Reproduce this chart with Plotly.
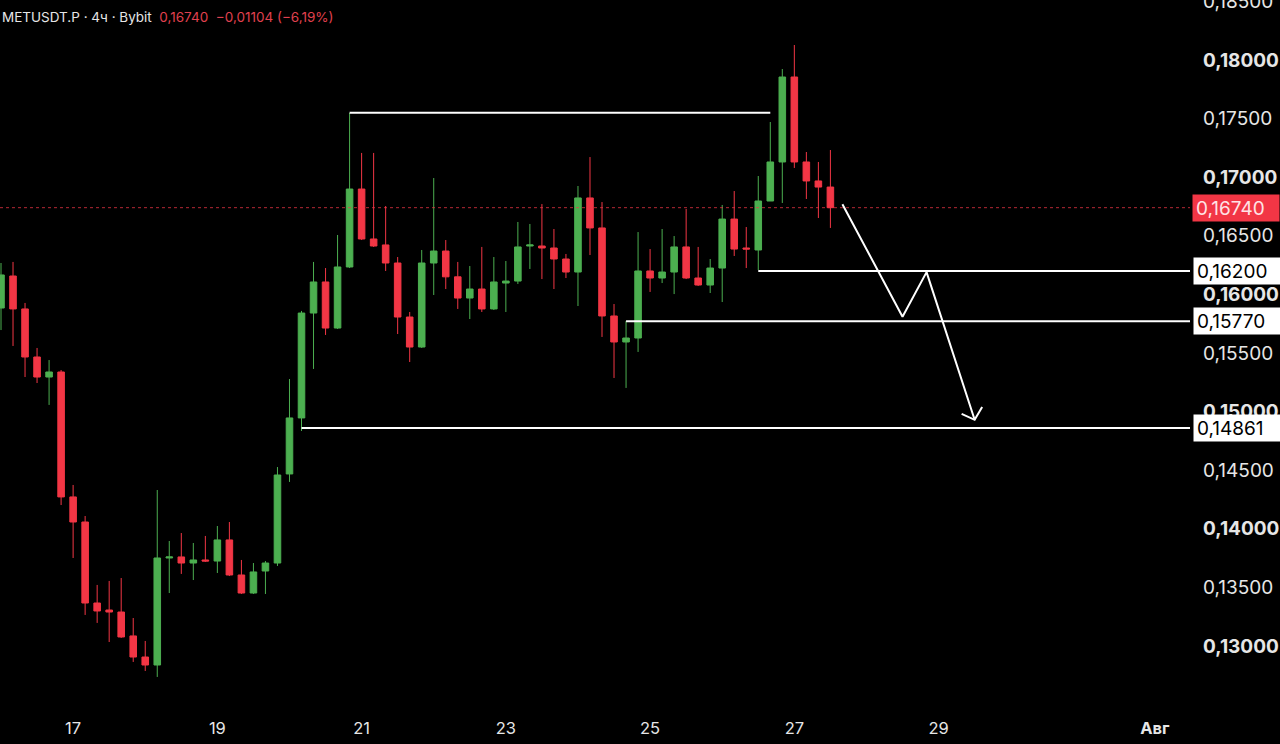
import pandas as pd
import plotly.graph_objects as go

# METUSDT.P 4h candles, Bybit
times = pd.date_range("2024-07-16 00:00", periods=70, freq="4h")

opens = [0.15884, 0.16157, 0.15876, 0.15466, 0.15295, 0.15338, 0.14272, 0.14058, 0.13367, 0.13307,
         0.13290, 0.13086, 0.12906, 0.12838, 0.13751, 0.13760, 0.13708, 0.13734, 0.13725, 0.13905,
         0.13606, 0.13452, 0.13640, 0.13708, 0.14468, 0.14946, 0.15841, 0.16106, 0.15713, 0.16234,
         0.16899, 0.16473, 0.16422, 0.16268, 0.15807, 0.15551, 0.16268, 0.16370, 0.16150, 0.15969,
         0.16046, 0.15876, 0.16097, 0.16114, 0.16413, 0.16413, 0.16396, 0.16302, 0.16191, 0.16823,
         0.16567, 0.15816, 0.15594, 0.15628, 0.16200, 0.16140, 0.16191, 0.16405, 0.16140, 0.16080,
         0.16225, 0.16643, 0.16396, 0.16379, 0.16797, 0.17130, 0.17855, 0.17130, 0.16968, 0.16916]
highs = [0.16268, 0.16277, 0.15927, 0.15543, 0.15440, 0.15355, 0.14374, 0.14109, 0.13521, 0.13555,
         0.13580, 0.13239, 0.13043, 0.14331, 0.13896, 0.13964, 0.13879, 0.13939, 0.14024, 0.14058,
         0.13734, 0.13708, 0.13725, 0.14527, 0.15278, 0.15859, 0.16277, 0.16225, 0.16507, 0.17548,
         0.17207, 0.17207, 0.16754, 0.16319, 0.15850, 0.16379, 0.16993, 0.16464, 0.16277, 0.16242,
         0.16405, 0.16319, 0.16285, 0.16618, 0.16601, 0.16771, 0.16558, 0.16345, 0.16925, 0.17172,
         0.16788, 0.15918, 0.15773, 0.16532, 0.16387, 0.16558, 0.16498, 0.16729, 0.16405, 0.16302,
         0.16763, 0.16882, 0.16575, 0.17010, 0.17471, 0.17923, 0.18128, 0.17215, 0.17130, 0.17232]
lows = [0.15696, 0.15560, 0.15295, 0.15244, 0.15057, 0.14203, 0.13751, 0.13265, 0.13197, 0.13034,
        0.13069, 0.12864, 0.12787, 0.12736, 0.13452, 0.13615, 0.13563, 0.13717, 0.13623, 0.13597,
        0.13444, 0.13444, 0.13444, 0.13683, 0.14400, 0.14835, 0.15364, 0.15654, 0.15705, 0.16225,
        0.16464, 0.16405, 0.16200, 0.15662, 0.15423, 0.15543, 0.15995, 0.16046, 0.15876, 0.15790,
        0.15850, 0.15867, 0.15850, 0.16089, 0.16217, 0.16131, 0.16046, 0.16140, 0.15901, 0.16336,
        0.15637, 0.15287, 0.15202, 0.15509, 0.16021, 0.16097, 0.16003, 0.16131, 0.16072, 0.16012,
        0.15935, 0.16328, 0.16225, 0.16208, 0.16797, 0.16780, 0.17079, 0.16814, 0.16652, 0.16567]
closes = [0.16166, 0.15876, 0.15466, 0.15295, 0.15338, 0.14272, 0.14058, 0.13367, 0.13299, 0.13290,
          0.13077, 0.12906, 0.12838, 0.13751, 0.13760, 0.13708, 0.13734, 0.13725, 0.13905, 0.13606,
          0.13452, 0.13632, 0.13708, 0.14459, 0.14946, 0.15841, 0.16106, 0.15713, 0.16234, 0.16899,
          0.16473, 0.16413, 0.16268, 0.15807, 0.15551, 0.16268, 0.16370, 0.16150, 0.15969, 0.16046,
          0.15876, 0.16106, 0.16114, 0.16405, 0.16422, 0.16396, 0.16302, 0.16191, 0.16823, 0.16567,
          0.15816, 0.15594, 0.15628, 0.16200, 0.16140, 0.16191, 0.16405, 0.16140, 0.16080, 0.16225,
          0.16643, 0.16387, 0.16387, 0.16797, 0.17130, 0.17855, 0.17130, 0.16968, 0.16916, 0.16740]

last_price = 0.16740

# drawn levels: price, start candle
levels = [0.17550, 0.16200, 0.15770, 0.14861]
level_starts = [pd.Timestamp("2024-07-20 20:00"), pd.Timestamp("2024-07-26 12:00"),
                pd.Timestamp("2024-07-24 16:00"), pd.Timestamp("2024-07-20 04:00")]
level_ends = [pd.Timestamp("2024-07-26 16:00"), None, None, None]
boxed_levels = [0.16200, 0.15770, 0.14861]

# projected path (arrow)
path_times = [pd.Timestamp("2024-07-27 16:00"), pd.Timestamp("2024-07-28 12:00"),
              pd.Timestamp("2024-07-28 20:00"), pd.Timestamp("2024-07-29 12:00")]
path_prices = [0.1677, 0.1581, 0.1619, 0.1493]
head_times = [pd.Timestamp("2024-07-29 07:40"), pd.Timestamp("2024-07-29 12:00"),
              pd.Timestamp("2024-07-29 14:30")]
head_prices = [0.1498, 0.1493, 0.1504]

x_start = pd.Timestamp("2024-07-15 23:40")
x_end = pd.Timestamp("2024-08-01 11:40")
y_min, y_max = 0.12454, 0.18512

tick_days = [pd.Timestamp(f"2024-07-{d}") for d in (17, 19, 21, 23, 25, 27, 29)] + [pd.Timestamp("2024-08-01")]
tick_day_text = ["17", "19", "21", "23", "25", "27", "29", "<b>Авг</b>"]

price_ticks = [0.130, 0.135, 0.140, 0.145, 0.150, 0.155, 0.160, 0.165, 0.170, 0.175, 0.180, 0.185]


def fmt(v):
    return f"{v:.5f}".replace(".", ",")


price_tick_text = [f"<b>{fmt(v)}</b>" if round(v * 1000) % 10 == 0 else fmt(v) for v in price_ticks]

GREEN = "#4CAF50"
RED = "#F23645"
FONT = "Inter"

fig = go.Figure()

fig.add_trace(go.Candlestick(
    x=times, open=opens, high=highs, low=lows, close=closes,
    increasing=dict(line=dict(color=GREEN, width=1), fillcolor=GREEN),
    decreasing=dict(line=dict(color=RED, width=1), fillcolor=RED),
    whiskerwidth=0, hoverinfo="skip",
))

# last price dotted line
fig.add_trace(go.Scatter(x=[x_start, x_end], y=[last_price, last_price], mode="lines",
                         line=dict(color="rgba(242,54,69,0.75)", width=1, dash="dot"),
                         hoverinfo="skip"))

for lvl, t0, t1 in zip(levels, level_starts, level_ends):
    fig.add_trace(go.Scatter(x=[t0, t1 if t1 is not None else x_end], y=[lvl, lvl], mode="lines",
                             line=dict(color="white", width=2), hoverinfo="skip"))

fig.add_trace(go.Scatter(x=path_times, y=path_prices, mode="lines",
                         line=dict(color="white", width=2), hoverinfo="skip"))
fig.add_trace(go.Scatter(x=head_times, y=head_prices, mode="lines",
                         line=dict(color="white", width=2), hoverinfo="skip"))

# price boxes on the axis
for lvl in boxed_levels:
    fig.add_annotation(x=1, xref="paper", y=lvl, yref="y", xanchor="left", xshift=3,
                       text=fmt(lvl), showarrow=False, bgcolor="white", width=80, height=20,
                       borderpad=3, align="left", font=dict(family=FONT, size=19, color="black"))
fig.add_annotation(x=1, xref="paper", y=last_price, yref="y", xanchor="left", xshift=2,
                   text=fmt(last_price), showarrow=False, bgcolor=RED, width=80, height=20,
                   borderpad=3, align="left", font=dict(family=FONT, size=19, color="#FFE3E5"))

# header
fig.add_annotation(x=0, xref="paper", y=1, yref="paper", xanchor="left", yanchor="top",
                   xshift=0, yshift=-7, showarrow=False, align="left",
                   text="METUSDT.P · 4ч · Bybit  <span style='color:#E0414F'>0,16740  −0,01104 (−6,19%)</span>",
                   font=dict(family=FONT, size=13.5, color="#E6E6E6"))

fig.update_layout(
    width=1280, height=744,
    paper_bgcolor="black", plot_bgcolor="black",
    margin=dict(l=0, r=90, t=0, b=34),
    showlegend=False,
    boxgap=0.22,
    xaxis=dict(range=[x_start, x_end], rangeslider=dict(visible=False), showgrid=False,
               zeroline=False, showline=False, tickvals=tick_days, ticktext=tick_day_text,
               ticklabelstandoff=6, automargin=False,
               tickfont=dict(family=FONT, size=16.5, color="#E6E6E6")),
    yaxis=dict(range=[y_min, y_max], side="right", showgrid=False, zeroline=False, showline=False,
               tickvals=price_ticks, ticktext=price_tick_text, ticklabelstandoff=12,
               ticklabeloverflow="allow", automargin=False,
               tickfont=dict(family=FONT, size=19, color="#E6E6E6")),
)

fig.write_html("out.html", config={"displayModeBar": False},
               post_script="document.body.style.margin='0';document.body.style.background='black';")
